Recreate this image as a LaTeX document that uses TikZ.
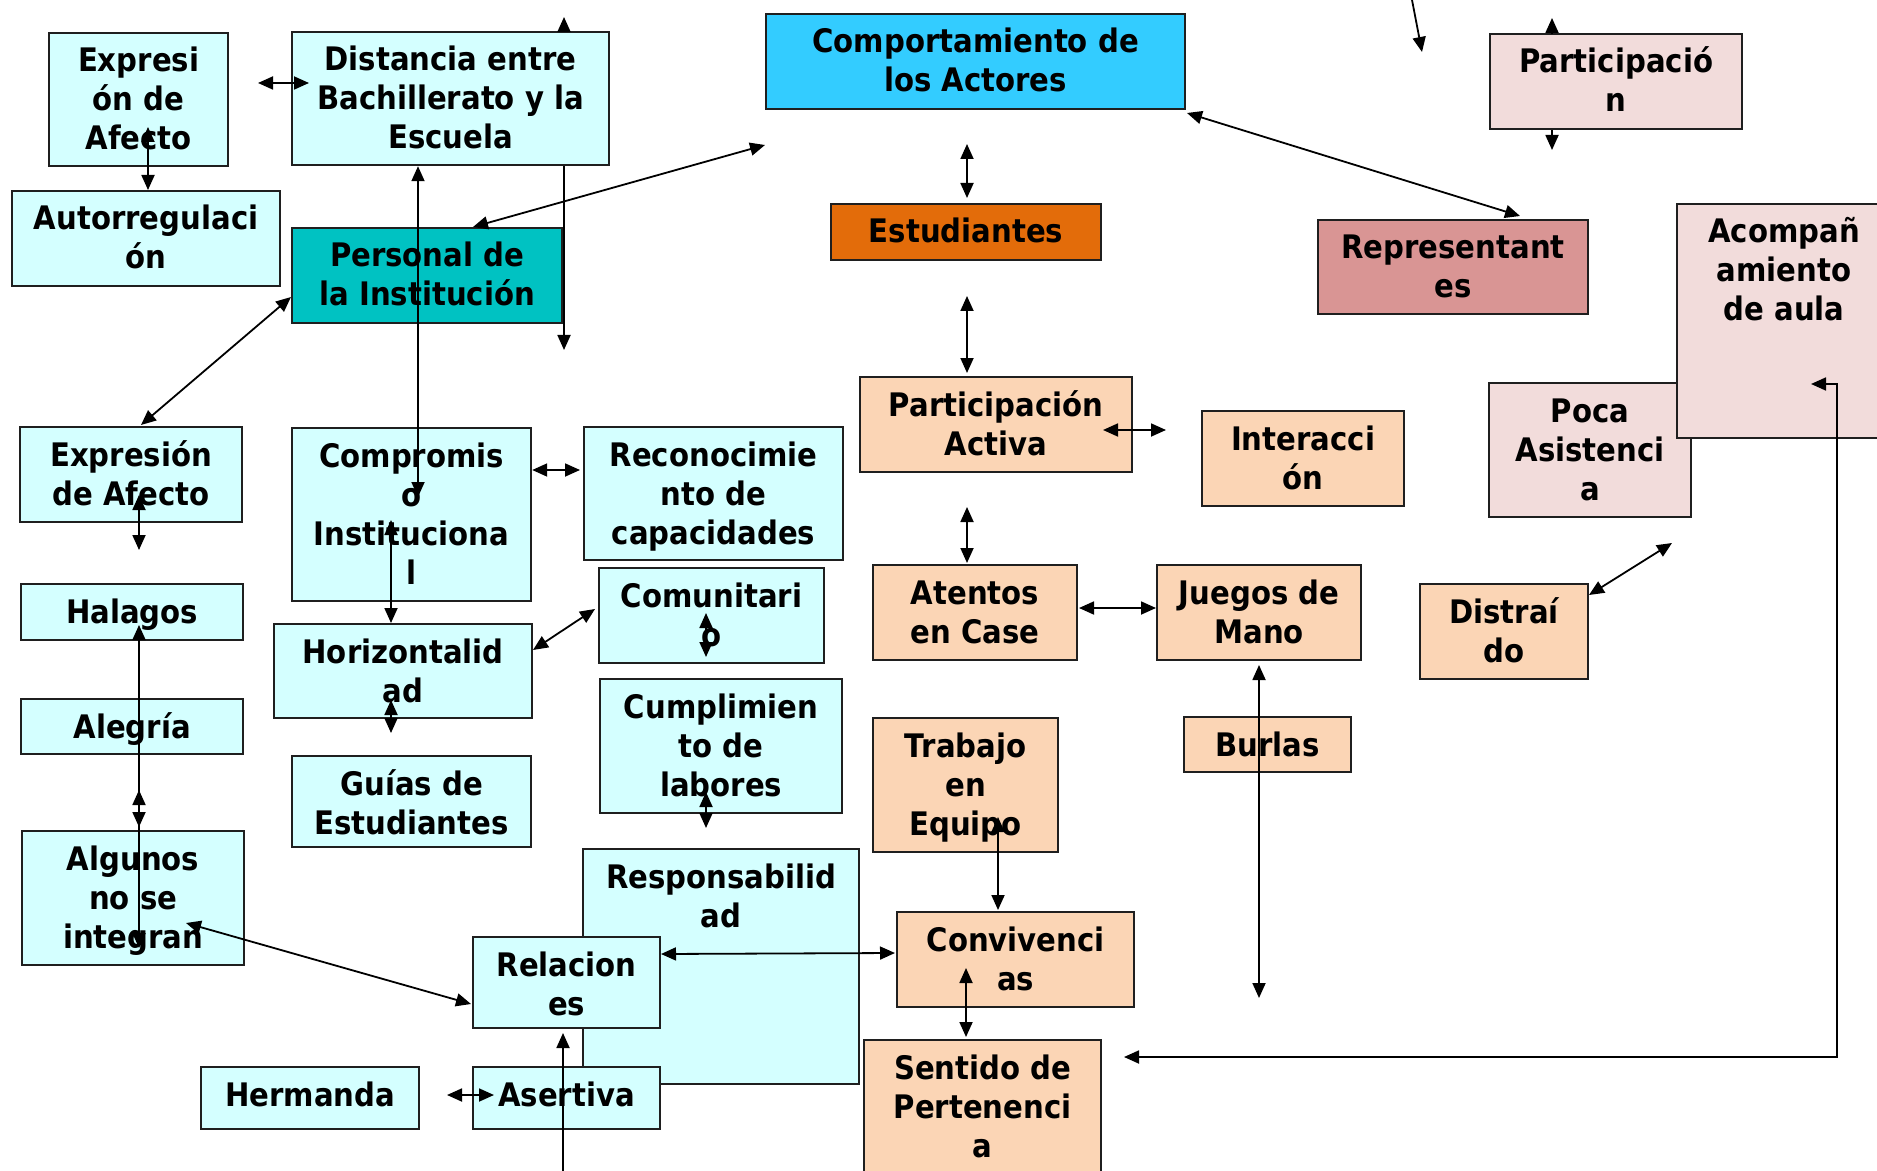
\documentclass[tikz,border=0pt]{standalone}
\usepackage{fontspec}
\setmainfont{DejaVu Sans}[FakeStretch=0.9]
\usetikzlibrary{arrows.meta,calc,backgrounds}
\definecolor{cy}{HTML}{D4FFFF}
\definecolor{bl}{HTML}{33CCFF}
\definecolor{tl}{HTML}{00C2C2}
\definecolor{orng}{HTML}{E36C0A}
\definecolor{pe}{HTML}{FBD5B5}
\definecolor{rp}{HTML}{D99594}
\definecolor{pk}{HTML}{F2DCDB}
\definecolor{bd}{HTML}{1F1F1F}
\tikzset{
  boxs/.style={draw=bd, line width=1.1pt, rectangle, inner sep=0pt, anchor=north west},
  txt/.style={font=\bfseries\fontsize{16.2}{19.5}\selectfont, align=center, inner sep=0pt, anchor=base},
  ln/.style={line width=0.9pt, draw=black},
  a1/.style={ln, -{Triangle[length=7.5pt,width=6.5pt]}},
  a2/.style={ln, {Triangle[length=7.5pt,width=6.5pt]}-{Triangle[length=7.5pt,width=6.5pt]}}
}
% name, x1, y1, x2, y2, fill, number of lines, text
\newcommand\mybox[8]{%
  \node[boxs, fill=#6, minimum width={(#4-#2)*0.5pt}, minimum height={(#5-#3)*0.5pt}] (#1) at (#2,#3) {};
  \node[txt] (#1t) at ($(#1.north)+(0,{40+(#7-1)*39})$) {#8};}
\begin{document}
\begin{tikzpicture}[x=0.5pt,y=-0.5pt]
\clip (0,0) rectangle (1877,1171);
\fill[white] (0,0) rectangle (1877,1171);
% boxes
\mybox{expA}{48}{32}{227}{165}{cy}{3}{Expresi\\ón de\\Afecto}
\mybox{dist}{291}{31}{608}{164}{cy}{3}{Distancia entre\\Bachillerato y la\\Escuela}
\mybox{comp}{765}{13}{1184}{108}{bl}{2}{Comportamiento de\\los Actores}
\mybox{partic}{1489}{33}{1741}{128}{pk}{2}{Participació\\n}
\mybox{autor}{11}{190}{279}{285}{cy}{2}{Autorregulaci\\ón}
\mybox{pers}{291}{227}{561}{322}{tl}{2}{Personal de\\la Institución}
\mybox{estud}{830}{203}{1100}{259}{orng}{1}{Estudiantes}
\mybox{repr}{1317}{219}{1587}{313}{rp}{2}{Representant\\es}
\mybox{pa}{859}{376}{1131}{471}{pe}{2}{Participación\\Activa}
\mybox{inter}{1201}{410}{1403}{505}{pe}{2}{Interacci\\ón}
\mybox{poca}{1488}{382}{1690}{516}{pk}{3}{Poca\\Asistenci\\a}
\mybox{acomp}{1676}{203}{1890}{437}{pk}{3}{Acompañ\\amiento\\de aula}
\mybox{expB}{19}{426}{241}{521}{cy}{2}{Expresión\\de Afecto}
\mybox{compr}{291}{427}{530}{600}{cy}{4}{Compromis\\o\\Instituciona\\l}
\mybox{recon}{583}{426}{842}{559}{cy}{3}{Reconocimie\\nto de\\capacidades}
\mybox{halag}{20}{583}{242}{639}{cy}{1}{Halagos}
\mybox{comun}{598}{567}{823}{662}{cy}{2}{Comunitari\\o}
\mybox{atent}{872}{564}{1076}{659}{pe}{2}{Atentos\\en Case}
\mybox{juegos}{1156}{564}{1360}{659}{pe}{2}{Juegos de\\Mano}
\mybox{distr}{1419}{583}{1587}{678}{pe}{2}{Distraí\\do}
\mybox{horiz}{273}{623}{531}{717}{cy}{2}{Horizontalid\\ad}
\mybox{alegr}{20}{698}{242}{753}{cy}{1}{Alegría}
\mybox{cumpl}{599}{678}{841}{812}{cy}{3}{Cumplimien\\to de\\labores}
\mybox{trab}{872}{717}{1057}{851}{pe}{3}{Trabajo\\en\\Equipo}
\mybox{burlas}{1183}{716}{1350}{771}{pe}{1}{Burlas}
\mybox{guias}{291}{755}{530}{846}{cy}{2}{Guías de\\Estudiantes}
\mybox{algun}{21}{830}{243}{964}{cy}{3}{Algunos\\no se\\integran}
\mybox{resp}{582}{848}{858}{1083}{cy}{2}{Responsabilid\\ad}
\mybox{conv}{896}{911}{1133}{1006}{pe}{2}{Convivenci\\as}
\mybox{relac}{472}{936}{659}{1027}{cy}{2}{Relacion\\es}
\mybox{herm}{200}{1066}{418}{1128}{cy}{1}{Hermanda}
\mybox{asert}{472}{1066}{659}{1128}{cy}{1}{Asertiva}
\mybox{sent}{863}{1039}{1100}{1200}{pe}{3}{Sentido de\\Pertenenci\\a}
% hidden connectors (behind boxes)
\begin{scope}[on background layer]
  \draw[a1] (horiz.north -| 418,0) -- (418,363);
  \draw[a1] (distr.north -| 1550,0) -- (repr.south -| 1550,0);
  \draw[a1] (conv.north -| 967,0) -- (967,665);
\end{scope}
% named free ends
\coordinate (topfree) at (1412,0);
\coordinate (compfree) at (765,145);
% connectors
\draw[a2] (148,127) -- (autor.north -| 148,0);
\draw[a2] (258,83) -- (309,83);
\draw[a1] (dist.north -| 564,0) -- (564,17);
\draw[a1] (dist.south -| 564,0) -- (564,350);
\draw[a2] (dist.south -| 418,0) -- (418,497);
\draw[a2] (pers.north -| 473,0) -- (compfree);
\draw[a2] (967,144) -- (967,198);
\draw[a2] (967,296) -- (967,373);
\draw[a2] (1187,113) -- (1520,216);
\draw[a1] (topfree) -- (1422,52);
\draw[a1] (partic.north -| 1552,0) -- (1552,18);
\draw[a1] (partic.south -| 1552,0) -- (1552,150);
\draw[a2] (pers.west |- 0,297) -- (141,425);
\draw[a2] (compr.east |- 0,470) -- (580,470);
\draw[a2] (391,520) -- (horiz.north -| 391,0);
\draw[a2] (391,700) -- (391,733);
\draw[a2] (533,650) -- (595,609);
\draw[a2] (139,495) -- (139,550);
\draw[a2] (139,625) -- (139,948);
\draw[a2] (139,790) -- (139,827);
\draw[a2] (186,923) -- (471,1004);
\draw[a2] (447,1095) -- (494,1095);
\draw[a1] (563,1180) -- (563,1033);
\draw[a2] (661,954) -- (895,953);
\draw[a2] (706,613) -- (706,657);
\draw[a2] (706,792) -- (706,828);
\draw[a2] (1103,430) -- (1166,430);
\draw[a2] (967,507) -- (967,563);
\draw[a2] (1079,608) -- (1156,608);
\draw[a2] (1259,665) -- (1259,998);
\draw[a2] (998,817) -- (998,910);
\draw[a2] (966,968) -- (966,1037);
\draw[a2] (1124,1057) -- (1837,1057) -- (1837,384) -- (1811,384);
\draw[a2] (1589,595) -- (1672,543);
\end{tikzpicture}
\end{document}
